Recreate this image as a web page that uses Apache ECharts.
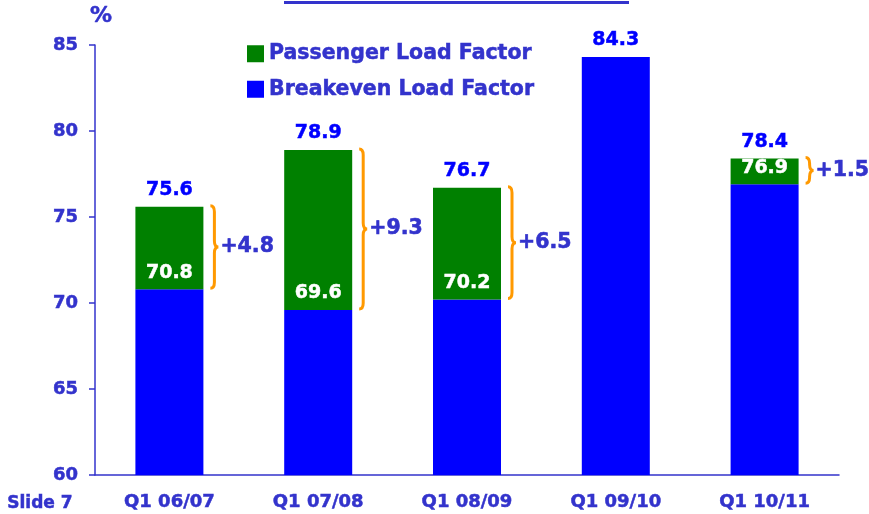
<!DOCTYPE html>
<html>
<head>
<meta charset="utf-8">
<script src="https://cdn.jsdelivr.net/npm/echarts@6/dist/echarts.min.js"></script>
<style>
  html, body { margin: 0; padding: 0; background: #fff; }
  #chart { width: 869px; height: 514px; }
</style>
</head>
<body>
<div id="chart"></div>
<script>
// load factors, Q1 by year
var quarters = ['Q1 06/07', 'Q1 07/08', 'Q1 08/09', 'Q1 09/10', 'Q1 10/11'];
var passengerLF = [75.6, 78.9, 76.7, null, 78.4];
var breakevenLF = [70.8, 69.6, 70.2, 84.3, 76.9];
var yTicks = [60, 65, 70, 75, 80, 85];

var ink = '#3333cc';
var font = 'DejaVu Sans';

// green part sits on top of the breakeven bar
var gap = passengerLF.map(function (p, i) {
  return p != null && p > breakevenLF[i] ? +(p - breakevenLF[i]).toFixed(1) : 0;
});
var notes = quarters.map(function (q, i) {
  return [i, passengerLF[i], breakevenLF[i]];
});

var chart = echarts.init(document.getElementById('chart'));

function braceItem(params, api) {
  var i = api.value(0);
  var p = passengerLF[i];
  var b = breakevenLF[i];
  var kids = [];
  var topVal = (p != null && p > b) ? p : b;
  var topPt = api.coord([i, topVal]);
  kids.push({
    type: 'text',
    style: {
      x: topPt[0], y: topPt[1] - 7,
      text: topVal.toFixed(1),
      align: 'center', verticalAlign: 'bottom',
      fill: '#0000ff', stroke: '#0000ff', lineWidth: 0.5,
      font: 'bold 19px "DejaVu Sans"'
    }
  });
  if (p != null && p > b) {
    var pt = api.coord([i, p]);
    var pb = api.coord([i, b]);
    var x = pt[0] + 41;
    var w = 8;
    var y0 = pt[1] - 1, y1 = pb[1] - 1;
    var m = (y0 + y1) / 2;
    var r = Math.min(6, (y1 - y0) / 4);
    var xm = x + w / 2;
    var d = 'M' + x + ' ' + y0 +
      ' Q' + xm + ' ' + y0 + ' ' + xm + ' ' + (y0 + r) +
      ' L' + xm + ' ' + (m - r) +
      ' Q' + xm + ' ' + m + ' ' + (x + w) + ' ' + m +
      ' Q' + xm + ' ' + m + ' ' + xm + ' ' + (m + r) +
      ' L' + xm + ' ' + (y1 - r) +
      ' Q' + xm + ' ' + y1 + ' ' + x + ' ' + y1;
    kids.push({
      type: 'path',
      shape: { pathData: d },
      style: { fill: null, stroke: '#ff9900', lineWidth: 3 }
    });
    kids.push({
      type: 'text',
      style: {
        x: x + w + 2, y: m,
        text: '+' + (p - b).toFixed(1),
        align: 'left', verticalAlign: 'middle',
        fill: ink, stroke: ink, lineWidth: 0.6,
        font: 'bold 20.5px "DejaVu Sans"'
      }
    });
  }
  return { type: 'group', children: kids };
}

var bolder = { textBorderColor: ink, textBorderWidth: 0.5 };

var option = {
  animation: false,
  textStyle: { fontFamily: font },
  grid: { left: 95, right: 30, top: 45, bottom: 39 },
  legend: {
    data: ['Passenger Load Factor', 'Breakeven Load Factor'],
    orient: 'vertical',
    left: 242, top: 38,
    itemWidth: 17, itemHeight: 17, itemGap: 14,
    icon: 'rect',
    textStyle: Object.assign({ color: ink, fontWeight: 'bold', fontSize: 20.5, fontFamily: font }, bolder)
  },
  xAxis: {
    type: 'category',
    data: quarters,
    axisLine: { lineStyle: { color: ink, width: 1.5 } },
    axisTick: { length: 7, lineStyle: { color: ink, width: 1.5 } },
    axisLabel: Object.assign({ color: ink, fontWeight: 'bold', fontSize: 18, margin: 18 }, bolder)
  },
  yAxis: {
    type: 'value',
    min: yTicks[0], max: yTicks[yTicks.length - 1], interval: 5,
    name: '%',
    nameGap: 18,
    nameTextStyle: Object.assign({ color: ink, fontWeight: 'bold', fontSize: 22, padding: [0, 0, 0, 12] }, bolder),
    splitLine: { show: false },
    axisLine: { show: true, lineStyle: { color: ink, width: 1.5 } },
    axisTick: { show: true, length: 6, lineStyle: { color: ink, width: 1.5 } },
    axisLabel: Object.assign({ color: ink, fontWeight: 'bold', fontSize: 18, margin: 17 }, bolder)
  },
  graphic: [
    { type: 'line', shape: { x1: 284, y1: 2.5, x2: 629, y2: 2.5 }, style: { stroke: ink, lineWidth: 3 } },
    { type: 'text', left: 7, top: 495, style: { text: 'Slide 7', fill: ink, stroke: ink, lineWidth: 0.5, font: 'bold 17px "DejaVu Sans"' } }
  ],
  series: [
    {
      name: 'Breakeven Load Factor',
      type: 'bar',
      stack: 'lf',
      barWidth: 68,
      itemStyle: { color: '#0000ff' },
      data: breakevenLF
    },
    {
      name: 'Passenger Load Factor',
      type: 'bar',
      stack: 'lf',
      barWidth: 68,
      itemStyle: { color: '#008000' },
      label: {
        show: true,
        position: 'insideBottom',
        distance: 7,
        color: '#fff',
        textBorderColor: '#fff',
        textBorderWidth: 0.5,
        fontWeight: 'bold',
        fontSize: 19,
        formatter: function (p) {
          return p.value > 0 ? breakevenLF[p.dataIndex].toFixed(1) : '';
        }
      },
      data: gap
    },
    {
      name: 'notes',
      type: 'custom',
      renderItem: braceItem,
      encode: { x: 0, y: [1, 2] },
      z: 5,
      data: notes
    }
  ]
};

chart.setOption(option);
</script>
</body>
</html>
